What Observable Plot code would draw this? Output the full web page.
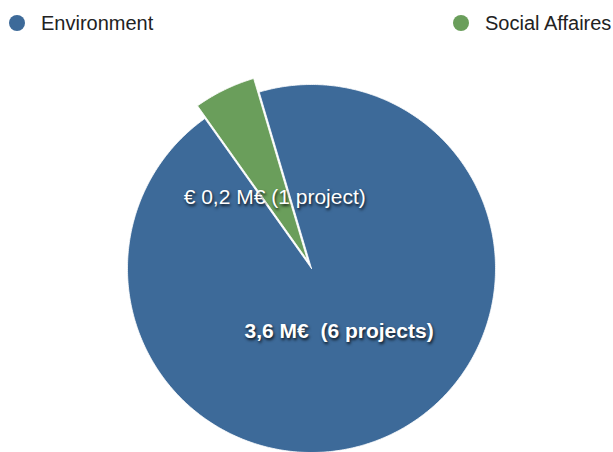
<!DOCTYPE html>
<html>
<head>
<meta charset="utf-8">
<script src="https://cdn.jsdelivr.net/npm/d3@7"></script>
<script src="https://cdn.jsdelivr.net/npm/@observablehq/plot@0.6"></script>
<style>
  html, body { margin: 0; padding: 0; background: #fff; }
  #wrap { width: 613px; font-family: "Liberation Sans", Arial, sans-serif; }
  #legend { position: relative; height: 44px; font-size: 20px; color: #222; }
  .item { position: absolute; top: 12px; height: 22px; display: flex; align-items: center; line-height: 22px; }
  .dot { width: 16px; height: 16px; border-radius: 50%; margin-right: 16px; }
  svg text.lbl { text-shadow: 1px 2px 3px rgba(0,0,0,0.8); white-space: pre; }
</style>
</head>
<body>
<div id="wrap">
  <div id="legend"></div>
  <div id="chart"></div>
</div>
<script>
const categories = ["Environment", "Social Affaires"];
const values = [3.6, 0.2];
const labels = ["3,6 M€  (6 projects)", "€ 0,2 M€ (1 project)"];
const colors = ["#3d6a99", "#6a9e5b"];
const legendLeft = [9, 453];

// legend
const leg = document.getElementById("legend");
categories.forEach((c, i) => {
  const d = document.createElement("div");
  d.className = "item";
  d.style.left = legendLeft[i] + "px";
  d.innerHTML = `<span class="dot" style="background:${colors[i]}"></span><span>${c}</span>`;
  leg.appendChild(d);
});

// pie geometry
const startDeg = -16.5;
const pie = d3.pie().sort(null).value(d => d)
  .startAngle(startDeg * Math.PI / 180)
  .endAngle((startDeg + 360) * Math.PI / 180);
const arcs = pie(values);
const explode = [0, 0.05];
const radius = [1, 1.03];

const polys = [];
arcs.forEach((a, i) => {
  const mid = (a.startAngle + a.endAngle) / 2;
  const ox = Math.sin(mid) * explode[i];
  const oy = Math.cos(mid) * explode[i];
  const r = radius[i];
  polys.push({cat: categories[i], x: ox, y: oy});
  const n = Math.max(4, Math.ceil((a.endAngle - a.startAngle) / 0.01));
  for (let k = 0; k <= n; k++) {
    const t = a.startAngle + (a.endAngle - a.startAngle) * k / n;
    polys.push({cat: categories[i], x: ox + r * Math.sin(t), y: oy + r * Math.cos(t)});
  }
  polys.push({cat: categories[i], x: ox, y: oy});
});

const textPts = [
  {label: labels[0], x: 0.15, y: -0.34, w: "bold"},
  {label: labels[1], x: -0.2, y: 0.385, w: "normal"}
];

const plot = Plot.plot({
  width: 613,
  height: 408,
  margin: 0,
  x: {domain: [-1, 1], range: [127, 495], axis: null},
  y: {domain: [-1, 1], range: [408, 40], axis: null},
  color: {domain: categories, range: colors},
  marks: [
    Plot.line(polys, {x: "x", y: "y", z: "cat", fill: "cat", stroke: "#fff", strokeWidth: 0.8, strokeLinejoin: "round", curve: "linear"}),
    Plot.text(textPts.filter(d => d.w === "bold"), {x: "x", y: "y", text: "label", fill: "#fff", fontSize: 21, fontWeight: "bold"}),
    Plot.text(textPts.filter(d => d.w !== "bold"), {x: "x", y: "y", text: "label", fill: "#fff", fontSize: 21})
  ]
});
plot.style.fontFamily = '"Liberation Sans", Arial, sans-serif';
plot.querySelectorAll("text").forEach(t => { t.classList.add("lbl"); t.setAttribute("xml:space", "preserve"); });
document.getElementById("chart").appendChild(plot);
</script>
</body>
</html>
